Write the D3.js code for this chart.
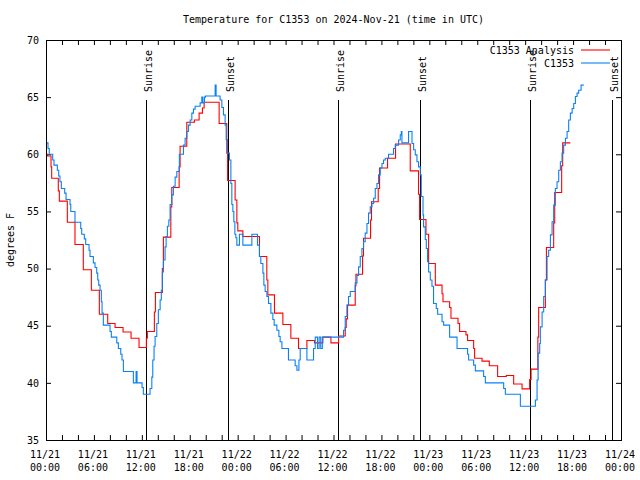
<!DOCTYPE html>
<html><head><meta charset="utf-8">
<script src="https://cdn.jsdelivr.net/npm/d3@7"></script>
<style>body{margin:0;background:#fff} svg{display:block}</style>
</head><body>
<svg id="c" width="640" height="480"></svg>
<script>
// ---- data (hours after 2024-11-21 00:00 UTC, degrees F) ----
const analysisHours = [0,0.16,0.63,0.71,1.54,1.67,2.67,3.63,4.67,5.68,6.68,7.73,8.65,9.65,10.65,11.65,12.57,12.69,13.57,13.70,14.57,14.70,15.63,15.75,16.67,16.79,17.63,18.58,19.17,19.59,19.80,21.68,22.64,22.74,23.68,23.90,24.02,24.65,26.73,27.65,27.78,28.61,29.66,30.66,31.62,32.67,33.62,34.67,35.68,36.63,37.47,37.59,37.76,38.72,38.81,39.64,39.76,40.64,40.76,41.60,41.77,42.77,43.77,45.61,46.65,46.78,47.58,47.91,48.75,49.59,49.71,50.54,50.71,51.59,51.79,52.59,52.79,53.55,53.67,54.60,55.51,56.55,57.64,58.56,59.61,60.56,60.74,61.59,61.69,62.53,62.66,63.57,63.70,64.57,64.70,65.66];
const analysisTemps = [60.0,59.85,58.9,57.9,56.8,55.9,54.05,52.1,49.9,48.1,46.0,45.2,44.85,44.45,43.9,43.1,43.9,44.5,46.2,47.9,50.0,52.75,55.4,57.1,58.9,60.7,62.8,63.0,63.6,64.05,64.55,62.7,60.1,57.7,56.0,54.0,53.3,52.8,51.05,49.0,47.7,46.1,45.1,43.9,43.0,43.7,43.5,44.0,43.5,44.1,44.85,45.6,46.8,48.5,49.5,51.1,52.65,54.25,55.85,57.0,58.8,59.65,60.9,58.55,56.5,54.3,53.0,50.45,48.55,47.8,47.1,46.6,45.65,45.2,44.5,44.2,43.7,43.0,42.15,41.9,41.5,40.55,40.65,39.9,39.47,40.3,41.2,44.0,46.6,49.0,51.85,54.0,56.65,59.0,61.0,61.0];

const obsHours = [0,0.25,0.41,0.84,1.00,1.42,1.59,1.75,1.92,2.34,2.51,3.01,3.10,3.63,4.35,4.47,4.80,4.97,5.39,5.51,5.93,6.14,6.35,6.48,6.60,6.77,6.93,7.02,7.18,8.02,8.18,8.86,9.06,9.36,9.52,9.69,10.94,11.28,11.40,12.03,12.19,13.03,13.25,13.37,13.53,13.66,13.87,14.07,14.29,14.44,14.57,14.70,14.91,15.04,15.20,15.38,15.54,15.75,15.95,16.17,16.38,16.70,17.21,17.42,17.63,17.83,18.05,18.26,18.46,18.67,19.30,19.51,19.64,19.84,19.96,21.18,21.30,21.80,22.02,22.22,22.43,22.56,22.72,22.97,23.15,23.27,23.40,23.52,23.65,23.77,23.90,24.22,24.65,25.78,26.48,26.73,26.90,27.16,27.28,27.44,27.66,27.86,28.16,28.41,28.57,28.91,29.16,29.32,29.54,30.36,31.20,31.42,31.67,31.83,32.67,33.50,33.71,34.00,34.20,34.40,34.60,37.26,37.47,37.68,37.88,38.10,38.72,38.94,39.14,39.35,39.56,39.76,39.97,40.19,40.39,40.60,40.81,41.02,41.23,41.44,41.64,41.85,42.07,42.27,42.48,42.89,43.52,43.73,44.15,44.36,44.49,44.57,45.40,45.83,46.03,46.24,46.45,46.65,46.87,46.99,47.21,47.28,47.49,47.62,47.78,47.91,48.12,48.33,48.53,48.87,49.04,49.59,49.79,50.54,51.47,52.79,52.92,53.55,53.76,54.80,55.01,57.31,57.52,59.40,61.28,61.49,61.62,61.82,61.90,62.12,62.32,62.53,62.74,62.94,63.16,63.37,63.57,63.78,63.99,64.20,64.41,64.62,64.82,65.04,65.25,65.45,65.66,65.88,66.08,66.29,66.50,66.70,67.00,67.33];
const obsTemps = [61.0,60.5,60.0,59.5,59.05,58.6,58.1,57.6,57.0,56.6,56.05,55.6,55.0,54.05,53.5,53.0,52.6,52.1,51.6,51.05,50.5,50.1,49.6,49.0,48.55,48.1,47.1,46.1,45.05,44.5,44.0,43.5,43.0,42.5,42.0,41.0,40.0,41.0,40.0,39.6,39.0,39.5,40.5,42.0,43.2,44.05,45.2,46.4,47.25,48.1,49.7,50.75,51.9,52.8,53.7,54.25,55.6,56.45,57.2,58.0,58.5,60.0,60.8,61.4,62.0,62.55,63.0,63.6,63.95,64.2,64.5,65.0,64.5,65.0,65.1,66.05,65.1,64.75,64.1,63.45,62.55,61.3,60.1,59.5,57.45,55.6,55.0,54.1,53.0,52.7,52.05,53.0,52.05,53.0,52.05,51.05,50.45,49.6,48.55,48.0,47.55,46.95,46.1,45.55,45.05,44.6,44.05,43.6,43.0,42.0,41.5,41.1,42.0,43.0,42.0,43.0,44.0,43.0,44.0,43.0,44.0,44.6,45.8,46.8,47.55,48.0,48.75,49.4,50.15,51.05,51.75,52.35,53.1,53.95,54.85,55.4,55.7,56.15,57.0,57.45,58.2,58.8,59.2,59.5,59.65,60.0,60.5,60.8,61.25,61.7,62.0,61.0,62.0,60.95,60.4,59.95,59.35,58.9,58.2,56.3,54.7,53.65,52.55,51.75,50.6,49.7,49.0,48.45,46.95,46.5,46.0,45.35,45.05,44.0,43.0,42.5,42.0,41.55,41.05,40.55,40.0,39.5,39.0,37.95,38.5,40.25,42.6,43.45,44.9,46.2,47.55,49.0,51.05,51.6,52.95,54.1,55.55,57.0,57.6,58.6,59.35,60.1,60.8,61.4,62.0,63.0,63.6,64.0,64.45,65.05,65.35,65.6,66.05,66.05];

const sunriseHours = [12.53, 36.53, 60.57];
const sunsetHours = [22.80, 46.87, 70.84];
const yTickValues = [35,40,45,50,55,60,65,70];
const seriesNames = ["C1353 Analysis", "C1353"];
const seriesColors = ["#ff0000", "#0a80f5"];
const titleText = "Temperature for C1353 on 2024-Nov-21 (time in UTC)";
const yLabelText = "degrees F";

// ---- layout ----
const L = 46, R = 621, T = 40, B = 440;
const MONO = "'DejaVu Sans Mono', monospace";
const t0 = Date.UTC(2024, 10, 21);
const toDate = h => new Date(t0 + h * 3600000);

const x = d3.scaleUtc().domain([new Date(t0), new Date(Date.UTC(2024, 10, 24))]).range([L, R]);
const y = d3.scaleLinear().domain([35, 70]).range([B, T]);

const svg = d3.select("#c");
svg.append("rect").attr("width", 640).attr("height", 480).attr("fill", "#fff");

// axes (ticks inward, mirrored)
const ax = g => g.selectAll(".domain").remove();
svg.append("g").attr("transform", `translate(0,${B})`)
  .call(d3.axisBottom(x).ticks(d3.utcHour.every(2)).tickSize(-5).tickSizeOuter(0).tickFormat(""))
  .call(ax);
svg.append("g").attr("transform", `translate(0,${T})`)
  .call(d3.axisTop(x).ticks(d3.utcHour.every(2)).tickSize(-5).tickSizeOuter(0).tickFormat(""))
  .call(ax);
svg.append("g").attr("transform", `translate(${L},0)`)
  .call(d3.axisLeft(y).tickValues(yTickValues).tickSize(-5).tickSizeOuter(0).tickPadding(7))
  .call(ax)
  .call(g => g.selectAll("text").attr("font-family", MONO).attr("font-size", 10).attr("fill", "#000"));
svg.append("g").attr("transform", `translate(${R},0)`)
  .call(d3.axisRight(y).tickValues(yTickValues).tickSize(-5).tickSizeOuter(0).tickFormat(""))
  .call(ax);
svg.selectAll(".tick line").attr("stroke", "#000");

// x tick labels (two lines)
const fmtD = d3.utcFormat("%m/%d"), fmtT = d3.utcFormat("%H:%M");
const xl = svg.append("g").attr("font-family", MONO).attr("font-size", 10).attr("fill", "#000").attr("text-anchor", "middle");
x.ticks(d3.utcHour.every(6)).forEach(d => {
  const tx = xl.append("text").attr("x", x(d) - 1).attr("y", 458);
  tx.append("tspan").attr("x", x(d) - 1).attr("y", 458).text(fmtD(d));
  tx.append("tspan").attr("x", x(d) - 1).attr("y", 471).text(fmtT(d));
});

// sunrise / sunset lines
const ev = [...sunriseHours.map(h => ({h, name: "Sunrise"})), ...sunsetHours.map(h => ({h, name: "Sunset"}))];
ev.forEach(e => {
  const xx = Math.round(x(toDate(e.h))) + 0.5;
  svg.append("line").attr("x1", xx).attr("x2", xx).attr("y1", 100).attr("y2", B)
    .attr("stroke", "#000").attr("stroke-width", 1);
  svg.append("text").attr("transform", `translate(${xx + 5},92) rotate(-90)`)
    .attr("font-family", MONO).attr("font-size", 10).attr("fill", "#000").text(e.name);
});

// series
const line = d3.line().x(d => x(toDate(d[0]))).y(d => y(d[1])).curve(d3.curveStepAfter);
const analysis = analysisHours.map((h, i) => [h, analysisTemps[i]]);
const obs = obsHours.map((h, i) => [h, obsTemps[i]]);
[analysis, obs].forEach((data, i) => {
  svg.append("path").datum(data).attr("d", line).attr("fill", "none")
    .attr("stroke", seriesColors[i]).attr("stroke-width", 1.1).attr("stroke-linejoin", "miter");
});

// border
svg.append("rect").attr("x", L + 0.5).attr("y", T + 0.5).attr("width", R - L).attr("height", B - T)
  .attr("fill", "none").attr("stroke", "#000").attr("stroke-width", 1);

// legend
seriesNames.forEach((n, i) => {
  const ly = 50 + i * 13;
  svg.append("text").attr("x", 574).attr("y", ly + 4).attr("text-anchor", "end")
    .attr("font-family", MONO).attr("font-size", 10).attr("fill", "#000").text(n);
  svg.append("line").attr("x1", 581).attr("x2", 610).attr("y1", ly).attr("y2", ly)
    .attr("stroke", seriesColors[i]).attr("stroke-width", 1.1);
});

// title and y label
svg.append("text").attr("x", (L + R) / 2).attr("y", 23).attr("text-anchor", "middle")
  .attr("font-family", MONO).attr("font-size", 10).attr("fill", "#000").text(titleText);
svg.append("text").attr("transform", "translate(14,240) rotate(-90)").attr("text-anchor", "middle")
  .attr("font-family", MONO).attr("font-size", 10).attr("fill", "#000").text(yLabelText);
</script>
</body></html>
